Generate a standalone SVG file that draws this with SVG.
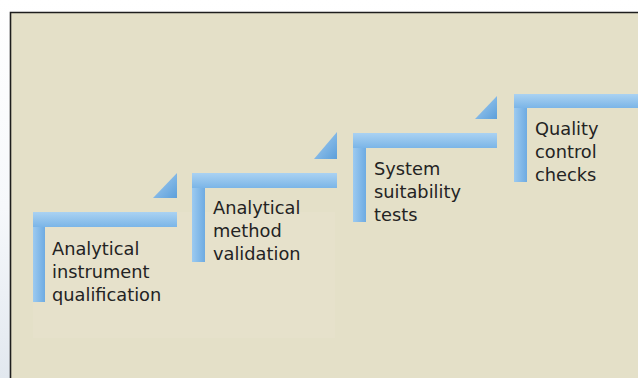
<svg xmlns="http://www.w3.org/2000/svg" width="638" height="378" viewBox="0 0 638 378">
  <defs>
    <linearGradient id="hbar" x1="0" y1="0" x2="0" y2="1">
      <stop offset="0" stop-color="#aad2f2"/>
      <stop offset="1" stop-color="#7bb5e7"/>
    </linearGradient>
    <linearGradient id="vbar" x1="0" y1="0" x2="1" y2="0">
      <stop offset="0" stop-color="#9ccaf0"/>
      <stop offset="1" stop-color="#6eabe2"/>
    </linearGradient>
    <linearGradient id="tri" x1="0" y1="0" x2="1" y2="1">
      <stop offset="0" stop-color="#a8d0f2"/>
      <stop offset="1" stop-color="#5c9fda"/>
    </linearGradient>
    <linearGradient id="edge" x1="0" y1="0" x2="0" y2="1">
      <stop offset="0" stop-color="#ffffff"/>
      <stop offset="0.55" stop-color="#f6f8fb"/>
      <stop offset="1" stop-color="#e2e8ef"/>
    </linearGradient>
    <style>
      .lbl { font-family: "DejaVu Sans", "Liberation Sans", sans-serif; font-size: 17.8px; fill: #232323; }
      .h { fill: url(#hbar); }
      .v { fill: url(#vbar); }
      .t { fill: url(#tri); }
    </style>
  </defs>

  <!-- page edge and panel -->
  <rect x="0" y="0" width="638" height="378" fill="url(#edge)"/>
  <rect x="10" y="12" width="628" height="366" fill="#e4e0c8"/>
  <rect x="33" y="212" width="302" height="126" fill="#e8e4cf" opacity="0.4"/>
  <path d="M10.5 378 V12.5 H638" fill="none" stroke="#1e1e1e" stroke-width="1.6"/>

  <!-- corner pieces leading to each next step -->
  <g id="connectors">
    <polygon class="t" points="177,173 177,198 153,198"/>
    <polygon class="t" points="337,132 337,159 314,159"/>
    <polygon class="t" points="497,96 497,119 475,119"/>
  </g>

  <g id="step1">
    <rect class="v" x="33" y="212" width="12" height="90"/>
    <rect class="h" x="33" y="212" width="144" height="15"/>
    <text class="lbl" x="52" y="255">Analytical</text>
    <text class="lbl" x="52" y="278">instrument</text>
    <text class="lbl" x="52" y="301">qualification</text>
  </g>

  <g id="step2">
    <rect class="v" x="192" y="173" width="13" height="89"/>
    <rect class="h" x="192" y="173" width="145" height="15"/>
    <text class="lbl" x="213" y="214">Analytical</text>
    <text class="lbl" x="213" y="237">method</text>
    <text class="lbl" x="213" y="260">validation</text>
  </g>

  <g id="step3">
    <rect class="v" x="353" y="133" width="13" height="89"/>
    <rect class="h" x="353" y="133" width="144" height="15"/>
    <text class="lbl" x="374" y="175">System</text>
    <text class="lbl" x="374" y="198">suitability</text>
    <text class="lbl" x="374" y="221">tests</text>
  </g>

  <g id="step4">
    <rect class="v" x="514" y="94" width="13" height="88"/>
    <rect class="h" x="514" y="94" width="124" height="14"/>
    <text class="lbl" x="535" y="135">Quality</text>
    <text class="lbl" x="535" y="158">control</text>
    <text class="lbl" x="535" y="181">checks</text>
  </g>
</svg>
